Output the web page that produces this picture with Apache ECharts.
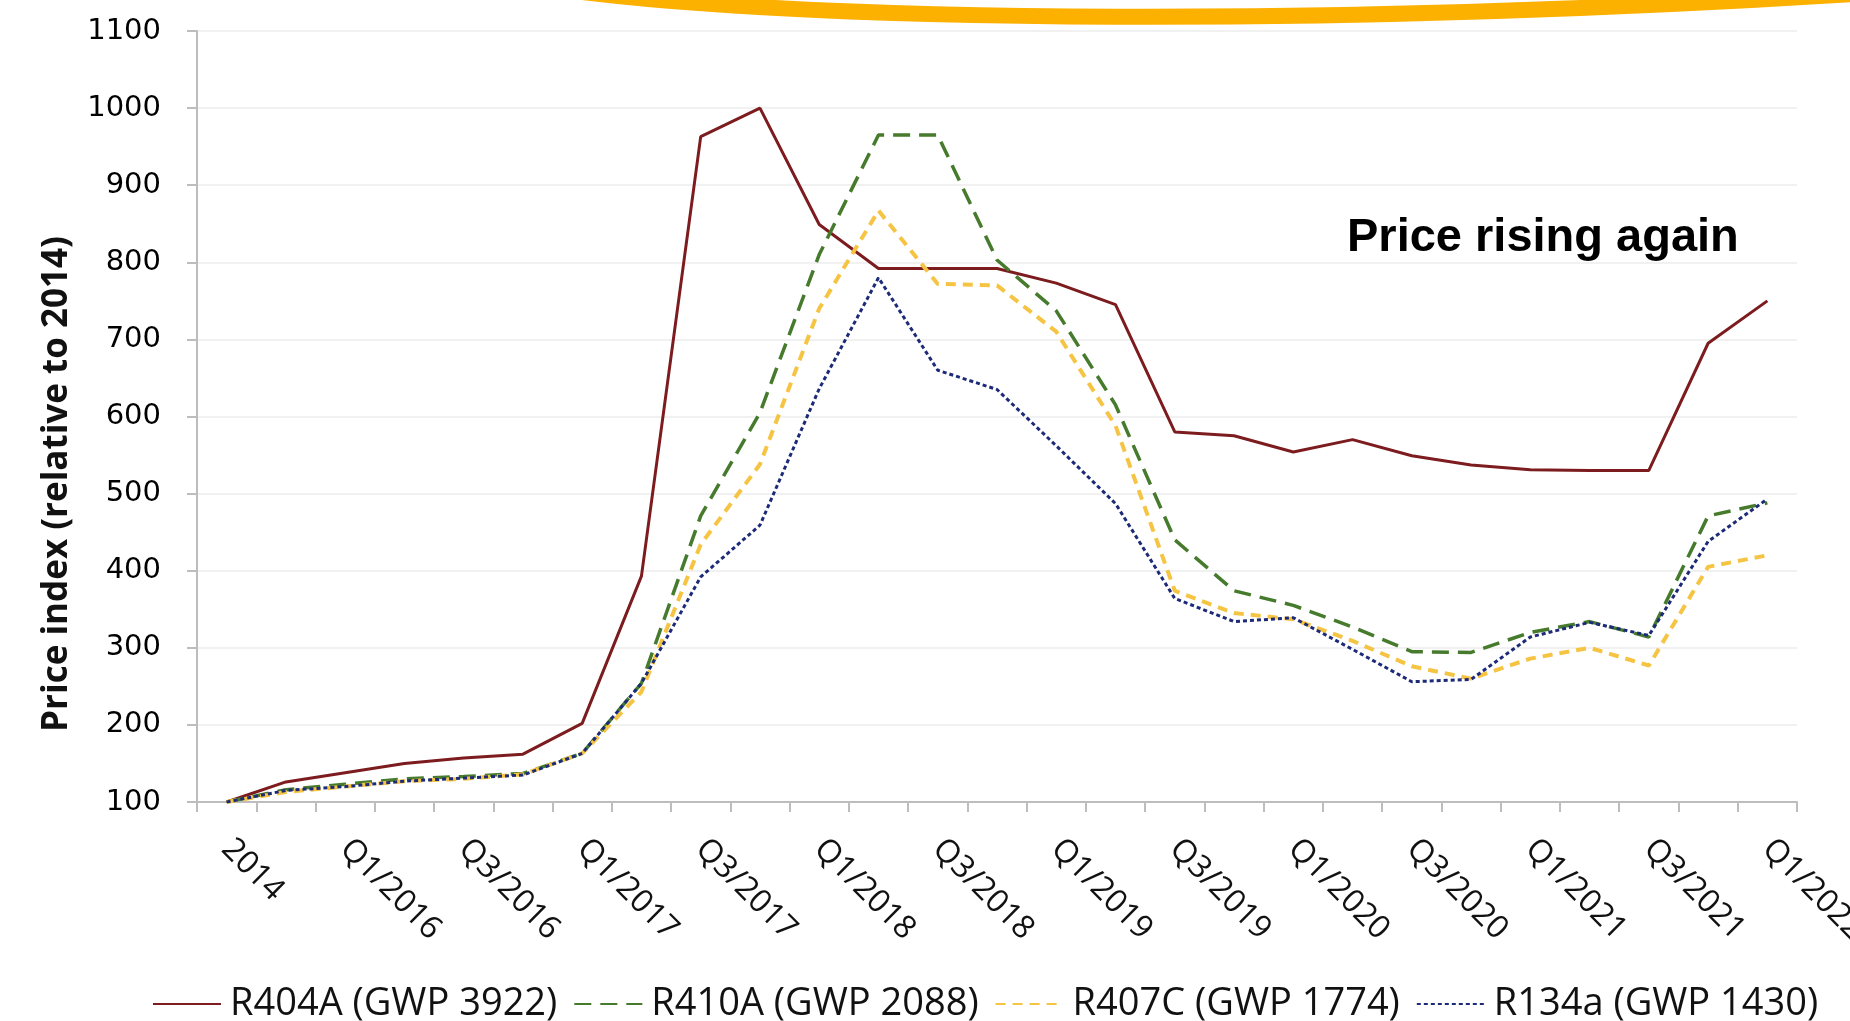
<!DOCTYPE html>
<html>
<head>
<meta charset="utf-8">
<script src="https://cdn.jsdelivr.net/npm/echarts@6/dist/echarts.min.js"></script>
<style>
html,body{margin:0;padding:0;background:#fff;}
#chart{width:1850px;height:1021px;}
</style>
</head>
<body>
<div id="chart"></div>
<script>
// ---------- data ----------
var categories = ["2014","2015","Q1/2016","Q2/2016","Q3/2016","Q4/2016","Q1/2017","Q2/2017","Q3/2017","Q4/2017",
  "Q1/2018","Q2/2018","Q3/2018","Q4/2018","Q1/2019","Q2/2019","Q3/2019","Q4/2019","Q1/2020","Q2/2020",
  "Q3/2020","Q4/2020","Q1/2021","Q2/2021","Q3/2021","Q4/2021","Q1/2022"];
var r404a = [100,126,138,150,157,162,202,393,963,1000,849,792,792,792,773,745,580,575,554,570,549,537,531,530,530,695,750];
var r410a = [100,116,123,130,133,137,163,254,471,605,810,965,965,803,737,615,440,374,355,327,295,294,320,334,314,471,488];
var r407c = [100,113,120,127,130,136,163,243,434,538,740,867,772,770,710,588,374,345,337,309,276,260,286,300,277,405,420];
var r134a = [100,115,120,127,131,135,163,254,392,459,636,780,660,635,562,487,364,334,339,298,256,259,314,333,316,438,493];
var seriesNames = ["R404A (GWP 3922)","R410A (GWP 2088)","R407C (GWP 1774)","R134a (GWP 1430)"];
var yTicks = {min:100, max:1100, step:100};
var yTitle = "Price index (relative to 2014)";
var annotation = "Price rising again";

// ---------- chart ----------
var chart = echarts.init(document.getElementById('chart'), null, {renderer:'canvas'});
function mk(name, data, color, width, dash){
  return {
    name:name, type:'line', data:data, symbol:'none', smooth:false,
    lineStyle:{color:color, width:width, type:dash, cap:'butt'},
    itemStyle:{color:color},
    emphasis:{disabled:true}, animation:false
  };
}
var option = {
  backgroundColor:'#ffffff',
  animation:false,
  grid:{left:197, right:53, top:31, bottom:219, containLabel:false, outerBoundsMode:'none'},
  xAxis:{
    type:'category', data:categories, boundaryGap:true,
    axisLine:{show:true, lineStyle:{color:'#bdbdbd', width:2}},
    axisTick:{show:true, interval:0, length:10, lineStyle:{color:'#bdbdbd', width:2}},
    axisLabel:{interval:1, rotate:-45, margin:42, color:'#111',
      fontFamily:'Open Sans', fontSize:32, hideOverlap:false},
    splitLine:{show:false}
  },
  yAxis:{
    type:'value', min:yTicks.min, max:yTicks.max, interval:yTicks.step,
    axisLine:{show:true, lineStyle:{color:'#bdbdbd', width:2}},
    axisTick:{show:true, length:10, lineStyle:{color:'#bdbdbd', width:2}},
    axisLabel:{margin:36, color:'#000', fontFamily:'DejaVu Sans', fontSize:29,
      formatter:function(v){return String(v);}},
    splitLine:{show:true, lineStyle:{color:'#f1f1f1', width:2}}
  },
  legend:{
    show:true, left:147, top:980, orient:'horizontal',
    itemWidth:68, itemHeight:14, itemGap:16,
    itemStyle:{opacity:0},
    textStyle:{fontFamily:'Open Sans', fontSize:38, color:'#111', padding:[0,0,0,4]},
    data:seriesNames
  },
  series:[
    mk(seriesNames[0], r404a, '#7d1c1f', 3, 'solid'),
    mk(seriesNames[1], r410a, '#467a2c', 3.5, [17,9]),
    mk(seriesNames[2], r407c, '#f6c443', 4, [10,7]),
    mk(seriesNames[3], r134a, '#1c2a78', 3, [4,3])
  ],
  graphic:[
    {type:'bezierCurve', silent:true,
      shape:{x1:515, y1:-18, cpx1:760, cpy1:26, cpx2:1380, cpy2:30, x2:2000, y2:-16},
      style:{stroke:'#fcb000', lineWidth:16, fill:null}},
    {type:'text', x:57, y:484, rotation:Math.PI/2, silent:true,
      style:{text:yTitle, font:'bold 35px "Open Sans"', fill:'#111',
        align:'center', verticalAlign:'middle', textAlign:'center', textVerticalAlign:'middle'}},
    {type:'text', x:1347, y:238, silent:true,
      style:{text:annotation, font:'bold 47px "Liberation Sans"', fill:'#000',
        align:'left', verticalAlign:'middle', textAlign:'left', textVerticalAlign:'middle'}}
  ]
};
chart.setOption(option);
</script>
</body>
</html>
